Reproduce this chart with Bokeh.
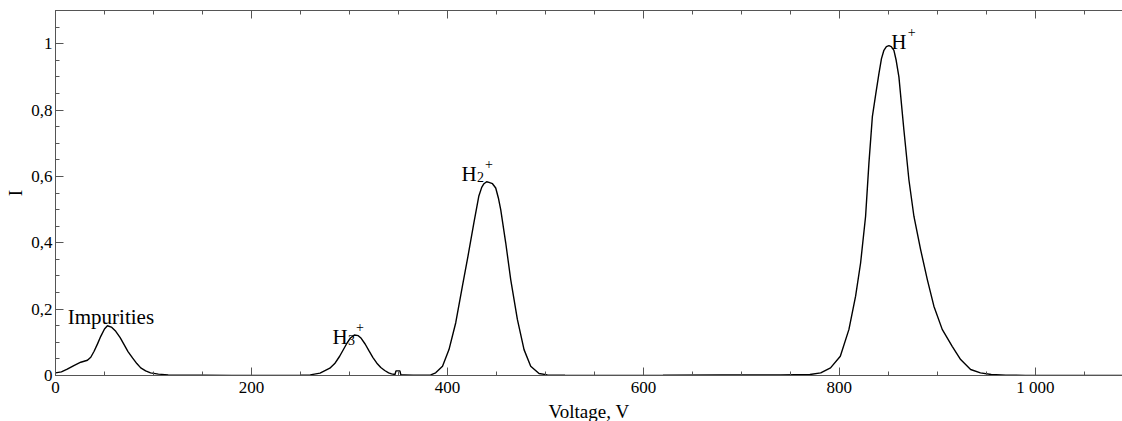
from bokeh.plotting import figure
from bokeh.models import LinearAxis, FixedTicker, Range1d, Label
from bokeh.embed import file_html
from bokeh.resources import INLINE

# ---- data ----
voltage = [0, 6, 12, 18.7, 25.8, 32.6, 36, 39.4, 43, 46.2, 50, 53, 57, 61.5, 66, 70, 74,
           78.6, 83, 87, 92, 97, 105, 115, 130, 150, 180, 220, 250, 260, 270, 280, 285, 290,
           297, 301, 305, 309, 312, 316, 320, 324, 328, 332, 336, 340, 343, 346.5, 347.5,
           351.5, 352.5, 356, 365, 375, 383, 388, 395, 401.6, 408.5, 415.3, 421, 427, 432,
           435, 437.3, 440, 442.4, 446, 449.3, 452, 454.4, 459.5, 464.6, 471.4, 478.2, 485,
           493.5, 502, 520, 560, 620, 680, 740, 770, 781, 791, 801, 809.8, 816.6, 821.7,
           826.8, 830.2, 833.7, 837, 840.4, 843, 845.5, 848, 850.6, 853, 855.7, 858,
           860.8, 865.9, 871, 876.1, 882.9, 889.8, 896.5, 905, 915.2, 923.8, 934, 944, 955,
           970, 990, 1020, 1050, 1089]
intensity = [0.008, 0.011, 0.019, 0.030, 0.040, 0.046, 0.055, 0.073, 0.096, 0.118, 0.140,
             0.150, 0.146, 0.133, 0.114, 0.093, 0.072, 0.053, 0.036, 0.023, 0.014, 0.008,
             0.004, 0.002, 0.001, 0.001, 0.0005, 0.0005, 0.001, 0.002, 0.007, 0.022, 0.036,
             0.058, 0.095, 0.113, 0.122, 0.120, 0.112, 0.095, 0.074, 0.054, 0.037, 0.024,
             0.015, 0.008, 0.005, 0.003, 0.014, 0.014, 0.002, 0.002, 0.001, 0.001, 0.002,
             0.008, 0.028, 0.078, 0.159, 0.269, 0.360, 0.460, 0.540, 0.567, 0.578, 0.584,
             0.582, 0.578, 0.565, 0.535, 0.500, 0.400, 0.289, 0.169, 0.078, 0.028, 0.006,
             0.002, 0.001, 0.0005, 0.001, 0.002, 0.002, 0.003, 0.008, 0.023, 0.058, 0.139,
             0.239, 0.339, 0.480, 0.640, 0.780, 0.845, 0.910, 0.955, 0.980, 0.991, 0.994,
             0.991, 0.980, 0.950, 0.900, 0.740, 0.590, 0.480, 0.380, 0.289, 0.209, 0.139,
             0.088, 0.048, 0.018, 0.008, 0.003, 0.001, 0.0005, 0.0005, 0.0005, 0.0005]

x_ticks = [0, 200, 400, 600, 800, 1000]
x_tick_labels = ["0", "200", "400", "600", "800", "1 000"]
x_minor = [50 * i for i in range(0, 22)]
y_ticks = [0, 0.2, 0.4, 0.6, 0.8, 1.0]
y_tick_labels = ["0", "0,2", "0,4", "0,6", "0,8", "1"]
y_minor = [0.05 * i for i in range(0, 23)]

label_x = [12.5, 282.6, 414.3, 853]
label_y = [0.175, 0.115, 0.6075, 1.004]
label_main = ["Impurities", "H", "H", "H"]
label_sub = ["", "3", "2", ""]
label_sup = ["", "+", "+", "+"]

FONT = "Liberation Serif"
AX = "#555555"

p = figure(frame_width=1067, frame_height=365, output_backend="svg", toolbar_location=None,
           x_range=Range1d(0, 1089), y_range=Range1d(0, 1.1),
           x_axis_location=None, y_axis_location=None,
           min_border_left=55, min_border_right=0, min_border_top=10, min_border_bottom=0)
p.grid.visible = False
p.outline_line_color = None
p.background_fill_color = "white"
p.border_fill_color = "white"

def style(ax):
    ax.axis_line_color = AX
    ax.major_tick_line_color = AX
    ax.minor_tick_line_color = AX
    ax.major_tick_in = 8
    ax.major_tick_out = 0
    ax.minor_tick_in = 4
    ax.minor_tick_out = 0
    ax.major_label_text_font = FONT
    ax.major_label_text_font_size = "17px"
    ax.major_label_text_color = "black"
    ax.axis_label_text_font = FONT
    ax.axis_label_text_font_size = "19px"
    ax.axis_label_text_font_style = "normal"
    ax.axis_label_text_color = "black"

xb = LinearAxis(ticker=FixedTicker(ticks=x_ticks, minor_ticks=x_minor),
                axis_label="Voltage, V")
xb.major_label_overrides = dict(zip(x_ticks, x_tick_labels))
style(xb)
xb.major_label_standoff = 2
xb.axis_label_standoff = 1
p.add_layout(xb, "below")

xt = LinearAxis(ticker=FixedTicker(ticks=x_ticks, minor_ticks=x_minor))
style(xt)
xt.major_label_text_font_size = "0px"
xt.major_label_standoff = 0
xt.major_label_overrides = {t: "" for t in x_ticks}
p.add_layout(xt, "above")

yl = LinearAxis(ticker=FixedTicker(ticks=y_ticks, minor_ticks=y_minor), axis_label="I")
yl.major_label_overrides = dict(zip(y_ticks, y_tick_labels))
style(yl)
yl.major_label_standoff = 3
yl.axis_label_standoff = 2
p.add_layout(yl, "left")

p.line(voltage, intensity, line_color="black", line_width=1.4)

for lx, ly, m, sb, sp in zip(label_x, label_y, label_main, label_sub, label_sup):
    p.add_layout(Label(x=lx, y=ly, text=m, text_font=FONT, text_font_size="21px",
                       text_color="black", text_baseline="alphabetic"))
    if sb:
        p.add_layout(Label(x=lx, y=ly, x_offset=15.5, y_offset=-3, text=sb, text_font=FONT,
                           text_font_size="14px", text_color="black",
                           text_baseline="alphabetic"))
    if sp:
        p.add_layout(Label(x=lx, y=ly, x_offset=23.5 if sb else 16.5, y_offset=10, text=sp,
                           text_font=FONT, text_font_size="14px", text_color="black",
                           text_baseline="alphabetic"))

open("out.html", "w").write(file_html(p, INLINE))
